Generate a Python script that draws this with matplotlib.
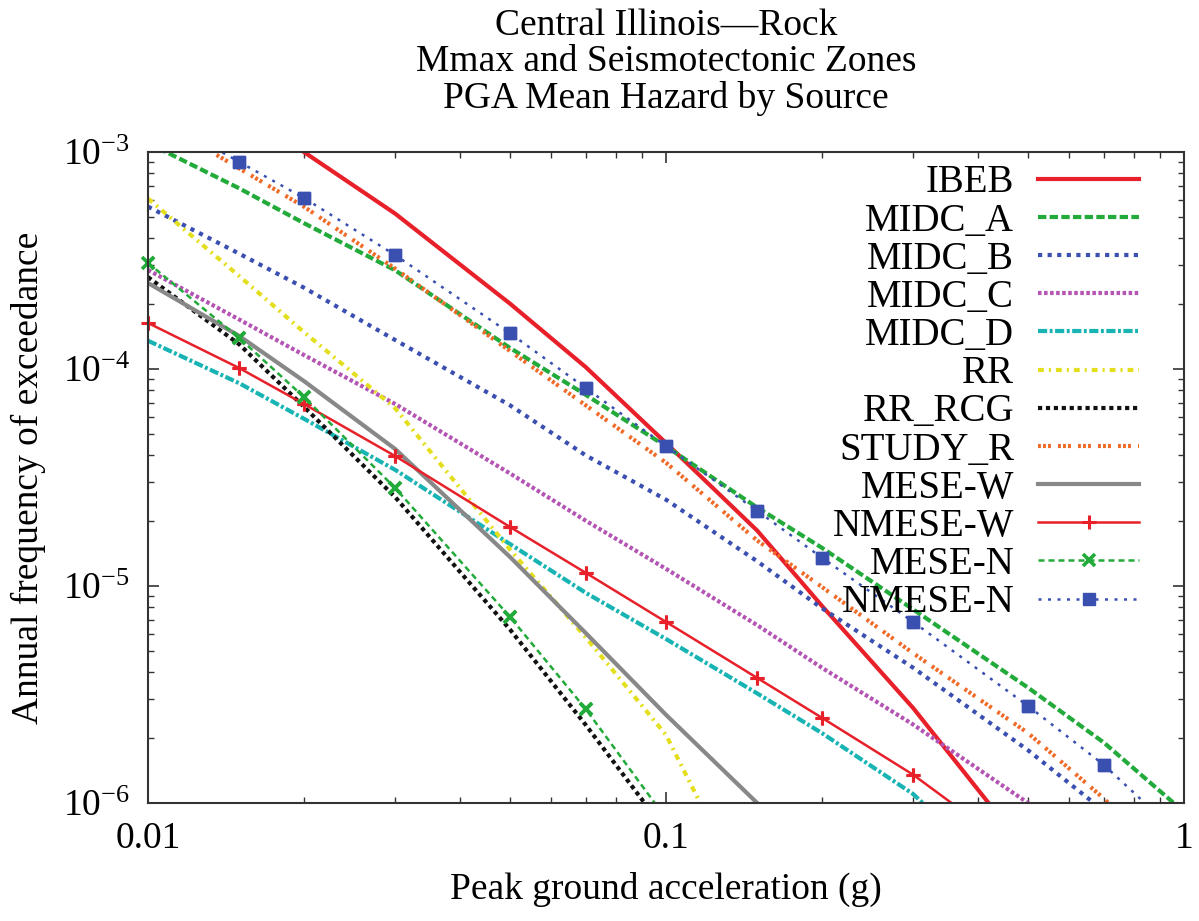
import numpy as np
import matplotlib
matplotlib.use('Agg')
import matplotlib.pyplot as plt
from matplotlib.ticker import NullFormatter

plt.rcParams['font.family'] = ['Liberation Serif', 'DejaVu Serif']
plt.rcParams['mathtext.fontset'] = 'custom'
plt.rcParams['mathtext.rm'] = 'Liberation Serif'
plt.rcParams['mathtext.it'] = 'Liberation Serif:italic'

# PGA grid (g) and mean annual exceedance frequency per source
pga = [0.01, 0.015, 0.02, 0.03, 0.05, 0.07, 0.1, 0.15, 0.2, 0.3, 0.5, 0.7, 1.0]

ibeb = [3.0e-3, 1.6e-3, 1.0e-3, 5.2e-4, 2.0e-4, 1.02e-4, 4.56e-5, 1.8e-5, 8.1e-6, 2.74e-6, 5.9e-7, 1.2e-7, 2e-8]
midc_a = [1.1e-3, 6.8e-4, 4.7e-4, 2.85e-4, 1.25e-4, 7.6e-5, 4.4e-5, 2.3e-5, 1.5e-5, 7.8e-6, 3.4e-6, 1.9e-6, 9.1e-7]
midc_b = [5.6e-4, 3.4e-4, 2.37e-4, 1.36e-4, 6.8e-5, 4.0e-5, 2.5e-5, 1.3e-5, 7.9e-6, 4.2e-6, 1.75e-6, 9.2e-7, 4e-7]
midc_c = [2.86e-4, 1.69e-4, 1.16e-4, 6.9e-5, 3.3e-5, 2.0e-5, 1.2e-5, 6.6e-6, 4.2e-6, 2.3e-6, 1.0e-6, 4.5e-7, 1.8e-7]
midc_d = [1.35e-4, 8.6e-5, 5.9e-5, 3.43e-5, 1.56e-5, 9.3e-6, 5.7e-6, 3.2e-6, 2.1e-6, 1.1e-6, 3.5e-7, 1.5e-7, 6e-8]
rr = [6.1e-4, 2.68e-4, 1.48e-4, 6.6e-5, 1.47e-5, 5.8e-6, 2.06e-6, 3e-7, 8e-8, 1e-8, 1e-9, 3e-10, 1e-10]
rr_rcg = [2.65e-4, 1.3e-4, 6.7e-5, 2.57e-5, 6.3e-6, 2.29e-6, 7.4e-7, 1e-7, 3e-8, 5e-9, 5e-10, 1e-10, 2e-11]
study_r = [1.5e-3, 8.4e-4, 5.6e-4, 2.9e-4, 1.21e-4, 6.8e-5, 3.7e-5, 1.62e-5, 9.9e-6, 4.9e-6, 2.1e-6, 1.05e-6, 4.5e-7]
mese_w = [2.49e-4, 1.42e-4, 8.8e-5, 4.28e-5, 1.36e-5, 6.07e-6, 2.55e-6, 1.0e-6, 4e-7, 8e-8, 8e-9, 1.5e-9, 3e-10]
nmese_w = [1.63e-4, 1.01e-4, 6.9e-5, 3.97e-5, 1.87e-5, 1.15e-5, 6.83e-6, 3.77e-6, 2.47e-6, 1.35e-6, 5.5e-7, 3e-7, 1.5e-7]
mese_n = [3.08e-4, 1.39e-4, 7.43e-5, 2.83e-5, 7.2e-6, 2.71e-6, 8.5e-7, 1.5e-7, 4e-8, 5e-9, 3e-10, 5e-11, 1e-11]
nmese_n = [1.55e-3, 9.0e-4, 6.14e-4, 3.35e-4, 1.46e-4, 8.17e-5, 4.41e-5, 2.22e-5, 1.35e-5, 6.83e-6, 2.8e-6, 1.5e-6, 6.8e-7]

names = ['IBEB', 'MIDC_A', 'MIDC_B', 'MIDC_C', 'MIDC_D', 'RR', 'RR_RCG',
         'STUDY_R', 'MESE-W', 'NMESE-W', 'MESE-N', 'NMESE-N']
series = [ibeb, midc_a, midc_b, midc_c, midc_d, rr, rr_rcg,
          study_r, mese_w, nmese_w, mese_n, nmese_n]

# color, linewidth, dash pattern (None = solid), marker
styles = [
    ('#e8202a', 3.0, None, None),
    ('#22aa3a', 3.0, (2.0, 0.8), None),
    ('#3a4fb0', 3.0, (1.0, 1.3), None),
    ('#b455b4', 3.0, (0.85, 0.6), None),
    ('#18b4b4', 3.0, (2.2, 0.6, 0.7, 0.6), None),
    ('#e4df1e', 3.0, (1.4, 1.2, 0.5, 1.2), None),
    ('#111111', 3.0, (1.0, 0.9), None),
    ('#f06a28', 3.0, (0.7, 0.5, 0.7, 0.5, 0.7, 1.7), None),
    ('#888888', 3.0, None, None),
    ('#e8202a', 1.8, None, '+'),
    ('#22aa3a', 1.8, (2.4, 1.6), 'x'),
    ('#3a50b0', 1.8, (1.2, 2.6), 's'),
]
mk_size = {'+': 10, 'x': 9, 's': 8.5}
mk_width = {'+': 2.2, 'x': 2.6, 's': 1.0}

fig = plt.figure(figsize=(11.99, 9.21), dpi=100)
ax = fig.add_axes([0.1234, 0.1281, 0.8641, 0.7069])

x = np.array(pga)
for name, vals, (col, lw, dash, mk) in zip(names, series, styles):
    y = np.array(vals)
    kw = dict(color=col, lw=lw, label=name)
    if dash is not None:
        kw['dashes'] = dash
    if mk is not None:
        kw.update(marker=mk, ms=mk_size[mk], mew=mk_width[mk], mec=col, mfc=col)
    ax.plot(x, y, **kw)
    if mk is not None:
        ok = (y >= 1e-6) & (y <= 1e-3)
        ax.plot(x[ok], y[ok], ls='none', marker=mk, ms=mk_size[mk],
                mew=mk_width[mk], mec=col, mfc=col, clip_on=False)

ax.set_xscale('log')
ax.set_yscale('log')
ax.set_xlim(0.01, 1)
ax.set_ylim(1e-6, 1e-3)
ax.set_xticks([0.01, 0.1, 1])
ax.set_xticklabels(['0.01', '0.1', '1'])
ax.set_yticks([1e-6, 1e-5, 1e-4, 1e-3])
ax.set_yticklabels([r'$10^{-6}$', r'$10^{-5}$', r'$10^{-4}$', r'$10^{-3}$'])
ax.xaxis.set_minor_formatter(NullFormatter())
ax.yaxis.set_minor_formatter(NullFormatter())
ax.tick_params(which='both', direction='in', top=True, right=True,
               colors='#333333', labelcolor='black', labelsize=27)
ax.tick_params(which='major', length=8, width=1.2, pad=13)
ax.tick_params(which='minor', length=4, width=1.0)
for sp in ax.spines.values():
    sp.set_color('#333333')
    sp.set_linewidth(1.5)

ax.set_xlabel('Peak ground acceleration (g)', fontsize=27, labelpad=12)
ax.set_ylabel('Annual frequency of exceedance', fontsize=27, labelpad=12)
ax.set_title('Central Illinois\u2014Rock\nMmax and Seismotectonic Zones\nPGA Mean Hazard by Source',
             fontsize=27, pad=32, linespacing=1.06)

ax.legend(loc='upper right', bbox_to_anchor=(0.957, 0.981), markerfirst=False,
          frameon=False, fontsize=28, handlelength=2.6, handletextpad=0.62,
          labelspacing=0.03, borderaxespad=0, borderpad=0)

fig.savefig('out.png', dpi=100)
